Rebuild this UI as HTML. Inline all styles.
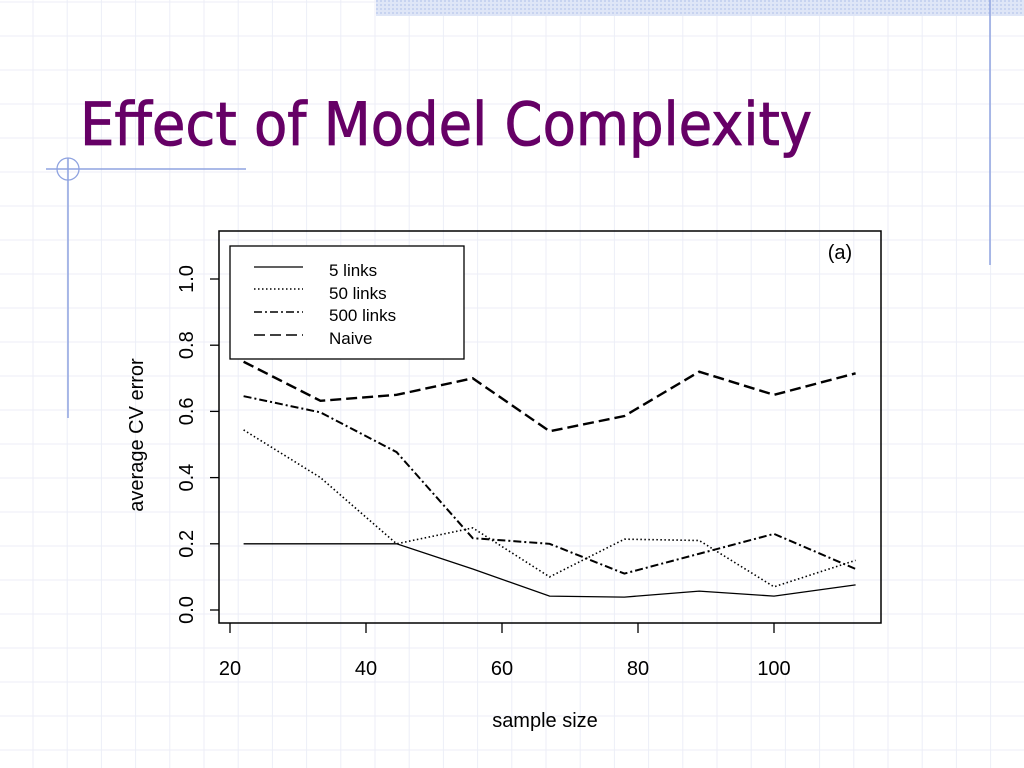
<!DOCTYPE html>
<html><head><meta charset="utf-8"><style>
html,body{margin:0;padding:0;background:#fff;}
svg{display:block;font-family:"Liberation Sans",Arial,sans-serif;}
</style></head><body>
<svg id="s" width="1024" height="768" viewBox="0 0 1024 768">
<defs>
<pattern id="dots" width="4" height="4" patternUnits="userSpaceOnUse"><rect width="4" height="4" fill="#dfe6f7"/><rect width="2" height="2" fill="#c7d3f0"/></pattern>
</defs>
<g id="grid"></g>
<rect x="376" y="0" width="648" height="16" fill="url(#dots)"/>
<line x1="990" y1="0" x2="990" y2="265" stroke="#8fa3e0" stroke-width="1.5"/>
<line x1="46" y1="169" x2="246" y2="169" stroke="#8fa3e0" stroke-width="1.5"/>
<line x1="68" y1="158" x2="68" y2="418" stroke="#8fa3e0" stroke-width="1.5"/>
<circle cx="68" cy="169" r="11" fill="none" stroke="#8fa3e0" stroke-width="1.3"/>
<text x="80" y="145" font-size="60" fill="#660066" stroke="#660066" stroke-width="0.8" textLength="732" lengthAdjust="spacingAndGlyphs" font-family="'DejaVu Sans Condensed','DejaVu Sans',sans-serif">Effect of Model Complexity</text>

<rect x="219" y="231" width="662" height="392" fill="none" stroke="#000" stroke-width="1.5"/>
<g id="axes"></g>
<g id="series"></g>
<text x="840" y="259" font-size="20" text-anchor="middle">(a)</text>

<g>
<rect x="230" y="246" width="234" height="113" fill="#fff" stroke="#000" stroke-width="1.3"/>
<line x1="254" y1="267" x2="303" y2="267" stroke="#000" stroke-width="1.3"/>
<line x1="254" y1="289" x2="303" y2="289" stroke="#000" stroke-width="1.5" stroke-dasharray="1.5,2.5"/>
<line x1="254" y1="312" x2="303" y2="312" stroke="#000" stroke-width="1.5" stroke-dasharray="8,3,2,3"/>
<line x1="254" y1="335" x2="303" y2="335" stroke="#000" stroke-width="1.5" stroke-dasharray="11,5"/>
<text x="329" y="276" font-size="17">5 links</text>
<text x="329" y="299" font-size="17">50 links</text>
<text x="329" y="321" font-size="17">500 links</text>
<text x="329" y="344" font-size="17">Naive</text>
</g>
<text x="545" y="727" font-size="20" text-anchor="middle">sample size</text>
<text transform="translate(143,435) rotate(-90)" font-size="20" text-anchor="middle">average CV error</text>
</svg>
<script>
const sampleSizes = [22, 33.3, 44.5, 55.7, 67, 78, 89, 100, 112];
const links5 = [0.20, 0.20, 0.20, 0.124, 0.042, 0.039, 0.057, 0.042, 0.076];
const links50 = [0.544, 0.40, 0.20, 0.248, 0.10, 0.214, 0.21, 0.07, 0.15];
const links500 = [0.646, 0.597, 0.477, 0.217, 0.20, 0.11, 0.17, 0.23, 0.124];
const naive = [0.75, 0.632, 0.65, 0.70, 0.54, 0.586, 0.72, 0.65, 0.715];
const xTicks = [20, 40, 60, 80, 100];
const yTicks = [0.0, 0.2, 0.4, 0.6, 0.8, 1.0];
const yTickLabels = ["0.0", "0.2", "0.4", "0.6", "0.8", "1.0"];

const NS = "http://www.w3.org/2000/svg";
function X(v){ return 230 + (v - 20) * 6.8; }
function Y(v){ return 610 - v * 331; }
function mk(tag, attrs, parent){ const e = document.createElementNS(NS, tag); for (const k in attrs) e.setAttribute(k, attrs[k]); parent.appendChild(e); return e; }

const grid = document.getElementById('grid');
for (let x = -1.2; x < 1024; x += 34.2) {
  const l = mk('line', {x1: x, y1: 0, x2: x, y2: 768, stroke: '#eceef7', 'stroke-width': 1}, grid);
  
  
}
for (let y = 2; y < 768; y += 34) {
  const l = mk('line', {x1: 0, y1: y, x2: 1024, y2: y, stroke: '#eceef7', 'stroke-width': 1}, grid);
  
  
}

const axes = document.getElementById('axes');
xTicks.forEach(t => {
  const l = mk('line', {x1: X(t), y1: 623, x2: X(t), y2: 633, stroke: '#000', 'stroke-width': 1.3}, axes);
  
  
  const tx = mk('text', {x: X(t), y: 675, 'font-size': 20, 'text-anchor': 'middle'}, axes);
  tx.textContent = t;
  
  
});
yTicks.forEach((t, i) => {
  const l = mk('line', {x1: 210, y1: Y(t), x2: 219, y2: Y(t), stroke: '#000', 'stroke-width': 1.3}, axes);
  
  
  const tx = mk('text', {transform: 'translate(193,' + Y(t) + ') rotate(-90)', 'font-size': 20, 'text-anchor': 'middle'}, axes);
  tx.textContent = yTickLabels[i];
  
  
});

const series = document.getElementById('series');
function draw(vals, dash, w, name){
  const pts = vals.map((v, i) => X(sampleSizes[i]) + ',' + Y(v)).join(' ');
  const p = mk('polyline', {points: pts, fill: 'none', stroke: '#000', 'stroke-width': w, 'stroke-dasharray': dash}, series);
  
  
}
draw(links5, 'none', 1.3, 'line-5-links');
draw(links50, '1.5,2.5', 1.6, 'line-50-links');
draw(links500, '8,3,2,3', 2, 'line-500-links');
draw(naive, '11,5', 2.4, 'line-naive');
</script>
</body></html>
